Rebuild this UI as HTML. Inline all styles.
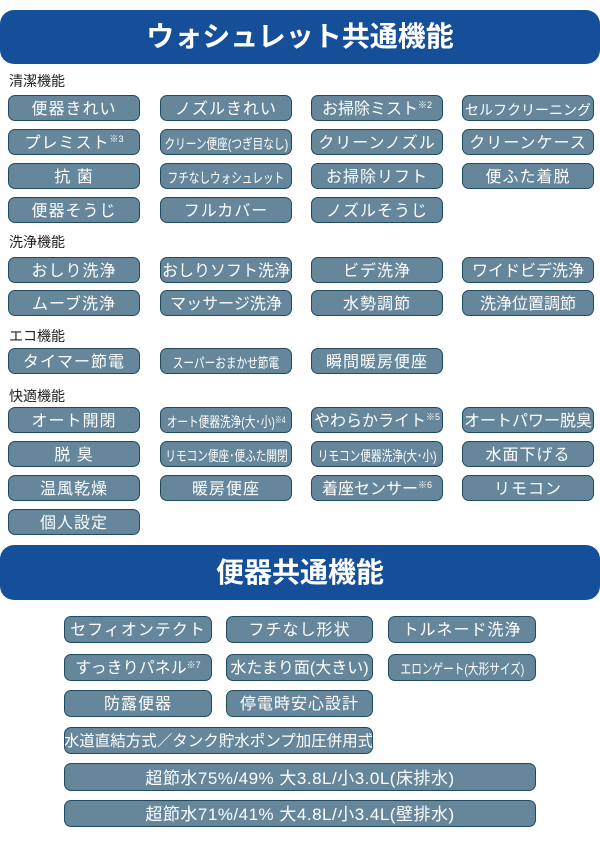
<!DOCTYPE html>
<html><head><meta charset="utf-8"><style>
body{margin:0;width:600px;height:843px;position:relative;background:#fff;overflow:hidden;font-family:"Liberation Sans","Noto Sans CJK JP",sans-serif}
.h{position:absolute;left:0;width:600px;background:#154f9a;border-radius:14px;color:#fff;font-weight:bold;font-size:28px;text-align:center;box-sizing:border-box}
.l{position:absolute;left:9px;font-size:14px;color:#222;line-height:16px}
.b{position:absolute;height:26px;box-sizing:border-box;background:#66879b;border:1.5px solid #1f4b60;border-radius:7px;color:#fff;font-size:16px;line-height:18px;white-space:nowrap;overflow:hidden;letter-spacing:1px;display:flex;align-items:center;justify-content:center;padding-top:3px}
.b sup{font-size:9px;line-height:9px;position:relative;top:-4px;letter-spacing:0;vertical-align:baseline}
.s{display:inline-block;flex:none;transform:scaleX(.76);font-size:14px;letter-spacing:0}
</style></head><body>
<div class="h" style="top:10px;height:54px;line-height:54px">ウォシュレット共通機能</div>
<div class="l" style="top:73px">清潔機能</div>
<div class="b" style="left:8px;top:95px;width:132px">便器きれい</div>
<div class="b" style="left:160px;top:95px;width:132px">ノズルきれい</div>
<div class="b" style="left:311px;top:95px;width:132px;letter-spacing:0">お掃除ミスト<sup>※2</sup></div>
<div class="b" style="left:462px;top:95px;width:132px;font-size:14px;letter-spacing:0">セルフクリーニング</div>
<div class="b" style="left:8px;top:129px;width:132px">プレミスト<sup>※3</sup></div>
<div class="b" style="left:160px;top:129px;width:132px"><span class="s">クリーン便座(つぎ目なし)</span></div>
<div class="b" style="left:311px;top:129px;width:132px">クリーンノズル</div>
<div class="b" style="left:462px;top:129px;width:132px">クリーンケース</div>
<div class="b" style="left:8px;top:163px;width:132px">抗 菌</div>
<div class="b" style="left:160px;top:163px;width:132px"><span class="s">フチなしウォシュレット</span></div>
<div class="b" style="left:311px;top:163px;width:132px">お掃除リフト</div>
<div class="b" style="left:462px;top:163px;width:132px">便ふた着脱</div>
<div class="b" style="left:8px;top:197px;width:132px">便器そうじ</div>
<div class="b" style="left:160px;top:197px;width:132px">フルカバー</div>
<div class="b" style="left:311px;top:197px;width:132px">ノズルそうじ</div>
<div class="l" style="top:234px">洗浄機能</div>
<div class="b" style="left:8px;top:257px;width:132px">おしり洗浄</div>
<div class="b" style="left:160px;top:257px;width:132px;letter-spacing:0">おしりソフト洗浄</div>
<div class="b" style="left:311px;top:257px;width:132px">ビデ洗浄</div>
<div class="b" style="left:462px;top:257px;width:132px;letter-spacing:0">ワイドビデ洗浄</div>
<div class="b" style="left:8px;top:290px;width:132px">ムーブ洗浄</div>
<div class="b" style="left:160px;top:290px;width:132px;letter-spacing:0">マッサージ洗浄</div>
<div class="b" style="left:311px;top:290px;width:132px">水勢調節</div>
<div class="b" style="left:462px;top:290px;width:132px;letter-spacing:0">洗浄位置調節</div>
<div class="l" style="top:328px">エコ機能</div>
<div class="b" style="left:8px;top:348px;width:132px">タイマー節電</div>
<div class="b" style="left:160px;top:348px;width:132px"><span class="s">スーパーおまかせ節電</span></div>
<div class="b" style="left:311px;top:348px;width:132px">瞬間暖房便座</div>
<div class="l" style="top:388px">快適機能</div>
<div class="b" style="left:8px;top:407px;width:132px">オート開閉</div>
<div class="b" style="left:160px;top:407px;width:132px"><span class="s">オート便器洗浄(大･小)<sup>※4</sup></span></div>
<div class="b" style="left:311px;top:407px;width:132px;letter-spacing:0">やわらかライト<sup>※5</sup></div>
<div class="b" style="left:462px;top:407px;width:132px;letter-spacing:0">オートパワー脱臭</div>
<div class="b" style="left:8px;top:441px;width:132px">脱 臭</div>
<div class="b" style="left:160px;top:441px;width:132px"><span class="s">リモコン便座･便ふた開閉</span></div>
<div class="b" style="left:311px;top:441px;width:132px"><span class="s">リモコン便器洗浄(大･小)</span></div>
<div class="b" style="left:462px;top:441px;width:132px">水面下げる</div>
<div class="b" style="left:8px;top:475px;width:132px">温風乾燥</div>
<div class="b" style="left:160px;top:475px;width:132px">暖房便座</div>
<div class="b" style="left:311px;top:475px;width:132px;letter-spacing:0">着座センサー<sup>※6</sup></div>
<div class="b" style="left:462px;top:475px;width:132px">リモコン</div>
<div class="b" style="left:8px;top:509px;width:132px">個人設定</div>
<div class="h" style="top:545px;height:55px;line-height:55px">便器共通機能</div>
<div class="b" style="left:64px;top:616px;width:148px;height:27px">セフィオンテクト</div>
<div class="b" style="left:226px;top:616px;width:147px;height:27px">フチなし形状</div>
<div class="b" style="left:388px;top:616px;width:148px;height:27px">トルネード洗浄</div>
<div class="b" style="left:64px;top:654px;width:148px;height:27px;letter-spacing:0">すっきりパネル<sup>※7</sup></div>
<div class="b" style="left:226px;top:654px;width:147px;height:27px;letter-spacing:0">水たまり面(大きい)</div>
<div class="b" style="left:388px;top:654px;width:148px;height:27px"><span class="s">エロンゲート(大形サイズ)</span></div>
<div class="b" style="left:64px;top:690px;width:148px;height:27px">防露便器</div>
<div class="b" style="left:226px;top:690px;width:147px;height:27px">停電時安心設計</div>
<div class="b" style="left:64px;top:727px;width:309px;height:27px;letter-spacing:0;font-size:15.5px">水道直結方式／タンク貯水ポンプ加圧併用式</div>
<div class="b" style="left:64px;top:763px;width:472px;height:28px;font-size:17px;letter-spacing:0.5px">超節水75%/49% 大3.8L/小3.0L(床排水)</div>
<div class="b" style="left:64px;top:800px;width:472px;height:27px;font-size:17px;letter-spacing:0.5px">超節水71%/41% 大4.8L/小3.4L(壁排水)</div>
</body></html>
